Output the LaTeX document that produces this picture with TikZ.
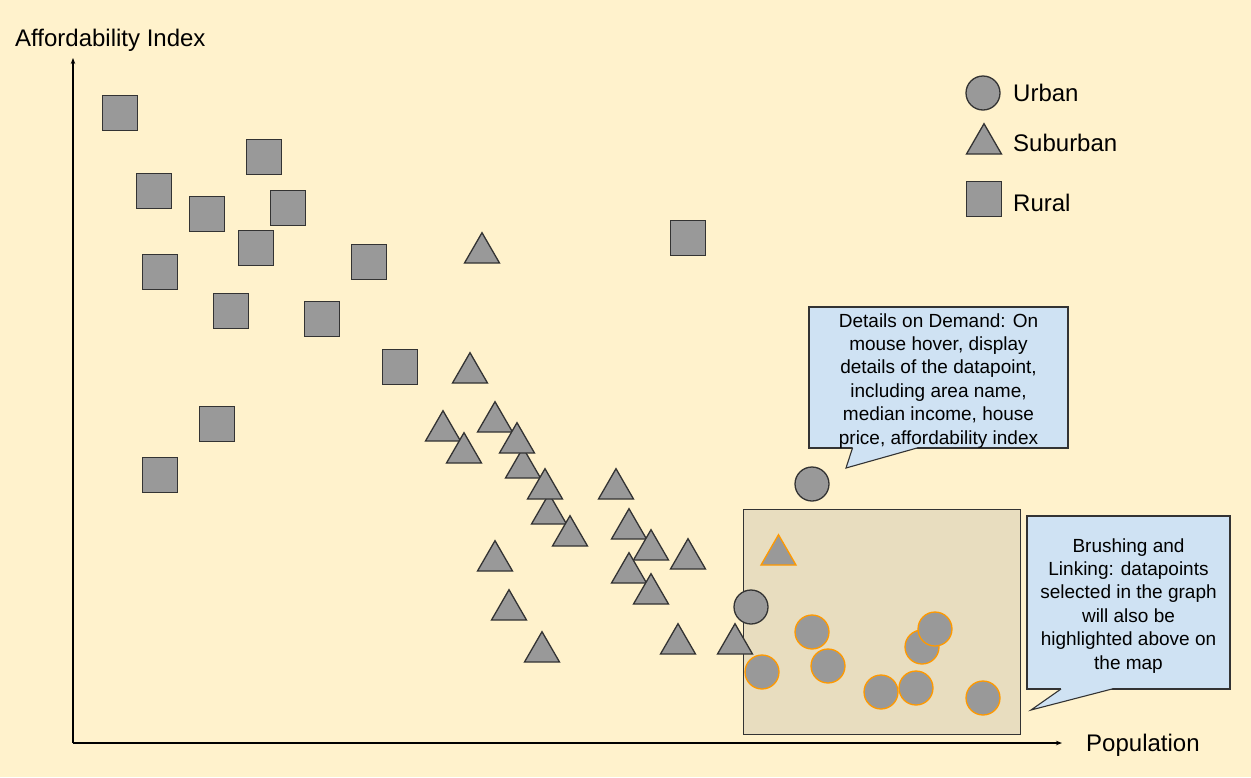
\documentclass[tikz,border=0pt]{standalone}
\usepackage{fontspec}
\setmainfont{Liberation Sans}
\usetikzlibrary{arrows.meta,shapes.geometric}
\definecolor{bgyellow}{HTML}{FFF2CC}
\definecolor{ptfill}{HTML}{999999}
\definecolor{ptline}{HTML}{333333}
\definecolor{hlorange}{HTML}{FF9900}
\definecolor{selfill}{HTML}{E8DDBF}
\definecolor{callfill}{HTML}{CFE2F3}
\tikzset{
  sq/.style={rectangle, fill=ptfill, draw=ptline, line width=1.3pt, minimum size=34.5pt, inner sep=0pt, outer sep=0pt},
  tri/.style={regular polygon, regular polygon sides=3, fill=ptfill, draw=ptline, line width=1.3pt, minimum size=40.4pt, inner sep=0pt, outer sep=0pt, anchor=side 2},
  urb/.style={circle, fill=ptfill, draw=ptline, line width=1.3pt, minimum size=34pt, inner sep=0pt, outer sep=0pt},
  hl/.style={draw=hlorange},
  lbl/.style={font=\fontsize{24}{28}\selectfont, inner sep=0pt, anchor=base west},
  callbox/.style={rectangle, fill=callfill, draw=ptline, line width=1.1pt, inner sep=0pt, align=center, font=\fontsize{19}{23.4}\selectfont},
  axis/.style={line width=1.1pt, -{Stealth[length=6pt,width=4.5pt]}}
}
\begin{document}
\begin{tikzpicture}[x=1pt,y=-1pt]
\useasboundingbox (0,0) rectangle (1251,777);
\fill[bgyellow] (0,0) rectangle (1251,777);

% axes
\coordinate (o) at (73,743);
\coordinate (ytop) at (73,58);
\coordinate (xend) at (1062,743);
\draw[axis] (o) -- (ytop);
\draw[axis] (o) -- (xend);
\node[lbl] (ylab) at (15,46) {Affordability Index};
\node[lbl] (xlab) at (1086,751) {Population};

% selection box
\node[rectangle, fill=selfill, draw=ptline, line width=1.3pt, minimum width=277pt, minimum height=225pt, inner sep=0pt, anchor=north west] (sel) at (743,509) {};

% rural squares
\node[sq] (r1) at (120,113) {};
\node[sq] (r2) at (264,157) {};
\node[sq] (r3) at (154,191) {};
\node[sq] (r4) at (207,214) {};
\node[sq] (r5) at (288,208) {};
\node[sq] (r6) at (256,248) {};
\node[sq] (r7) at (369,262) {};
\node[sq] (r8) at (160,272) {};
\node[sq] (r9) at (231,311) {};
\node[sq] (r10) at (322,319) {};
\node[sq] (r11) at (400,367) {};
\node[sq] (r12) at (217,424) {};
\node[sq] (r13) at (160,475) {};
\node[sq] (r14) at (688,238) {};

% suburban triangles
\node[tri] (s1) at (482,263) {};
\node[tri] (s2) at (470,383) {};
\node[tri] (s3) at (443,441) {};
\node[tri] (s5) at (464,463) {};
\node[tri] (s4) at (495,432) {};
\node[tri] (s7) at (523,478) {};
\node[tri] (s6) at (517,453) {};
\node[tri] (s9) at (549,524) {};
\node[tri] (s8) at (545,499) {};
\node[tri] (s10) at (570,546) {};
\node[tri] (s11) at (616,499) {};
\node[tri] (s12) at (629,539) {};
\node[tri] (s13) at (651,560) {};
\node[tri] (s14) at (688,569) {};
\node[tri] (s15) at (629,583) {};
\node[tri] (s16) at (651,604) {};
\node[tri] (s17) at (495,571) {};
\node[tri] (s18) at (509,620) {};
\node[tri] (s19) at (542,662) {};
\node[tri] (s20) at (678,654) {};
\node[tri] (s21) at (735,654) {};
\node[tri,hl] (s22) at (778.5,565) {};

% urban circles
\node[urb] (u1) at (812,484) {};
\node[urb] (u2) at (751,607) {};
\node[urb,hl] (u3) at (812,632) {};
\node[urb,hl] (u4) at (762,672) {};
\node[urb,hl] (u5) at (828,666) {};
\node[urb,hl] (u6) at (922,647) {};
\node[urb,hl] (u7) at (935,629) {};
\node[urb,hl] (u8) at (881,692) {};
\node[urb,hl] (u9) at (916,688) {};
\node[urb,hl] (u10) at (983,698) {};

% legend
\node[urb] (lu) at (983,93) {};
\node[tri] (lt) at (984,154) {};
\node[sq] (ls) at (984,199) {};
\node[lbl, anchor=west] (lut) at (1013,93) {Urban};
\node[lbl, anchor=west] (ltt) at (1013,143) {Suburban};
\node[lbl, anchor=west] (lst) at (1013,203) {Rural};

% callout 1: details on demand
\node[callbox, minimum width=259pt, minimum height=141pt] (c1) at (938.5,377.5) {\rule{0pt}{20pt}Details on Demand: On\\mouse hover, display\\details of the datapoint,\\including area name,\\median income, house\\price, affordability index};
\fill[callfill] (852.5,446.5) -- (852.5,448) -- (846,468) -- (917,448) -- (917,446.5) -- cycle;
\draw[ptline, line width=1.1pt, line join=miter] (852.5,448) -- (846,468) -- (917,448);

% callout 2: brushing and linking
\node[callbox, minimum width=203pt, minimum height=173pt] (c2) at (1128.5,602.5) {\rule{0pt}{20pt}Brushing and\\Linking: datapoints\\selected in the graph\\will also be\\highlighted above on\\the map};
\fill[callfill] (1061,687.5) -- (1061,689) -- (1031,710) -- (1112,689) -- (1112,687.5) -- cycle;
\draw[ptline, line width=1.1pt, line join=miter] (1061,689) -- (1031,710) -- (1112,689);
\end{tikzpicture}
\end{document}
